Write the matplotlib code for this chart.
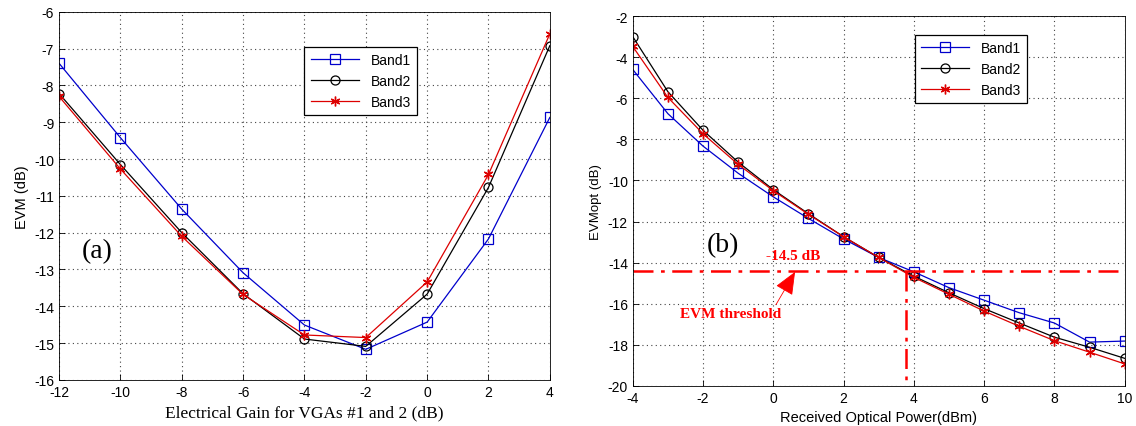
import matplotlib.pyplot as plt
import numpy as np

# panel (a)
gain = [-12, -10, -8, -6, -4, -2, 0, 2, 4]
a_band1 = [-7.4, -9.42, -11.36, -13.09, -14.51, -15.17, -14.43, -12.17, -8.87]
a_band2 = [-8.22, -10.15, -12.0, -13.66, -14.89, -15.09, -13.67, -10.77, -6.92]
a_band3 = [-8.3, -10.27, -12.1, -13.68, -14.78, -14.85, -13.34, -10.42, -6.6]

# panel (b)
power = [-4, -3, -2, -1, 0, 1, 2, 3, 4, 5, 6, 7, 8, 9, 10]
b_band1 = [-4.6, -6.75, -8.33, -9.65, -10.8, -11.85, -12.85, -13.75, -14.45,
           -15.22, -15.83, -16.44, -16.94, -17.87, -17.82]
b_band2 = [-3.0, -5.68, -7.56, -9.11, -10.45, -11.62, -12.74, -13.75, -14.66,
           -15.47, -16.24, -16.94, -17.63, -18.12, -18.66]
b_band3 = [-3.48, -5.96, -7.73, -9.22, -10.5, -11.65, -12.74, -13.75, -14.72,
           -15.54, -16.36, -17.1, -17.8, -18.36, -18.93]

labels = ['Band1', 'Band2', 'Band3']
threshold = -14.4
threshold_x = 3.77

plt.rcParams['font.family'] = 'Liberation Sans'
plt.rcParams['font.size'] = 8.5
plt.rcParams['axes.unicode_minus'] = False

fig = plt.figure(figsize=(11.36, 4.27), dpi=100)
ax1 = fig.add_axes([0.052, 0.108, 0.432, 0.862])
ax2 = fig.add_axes([0.557, 0.094, 0.433, 0.866])

asterisk = (6, 2, 0)
styles = [dict(color='#0000cc', marker='s', mfc='none', ms=7, mew=0.9),
          dict(color='black', marker='o', mfc='none', ms=6.5, mew=0.9),
          dict(color='#dd0000', marker=asterisk, ms=7, mew=1.0)]

for ys, st, lab in zip([a_band1, a_band2, a_band3], styles, labels):
    ax1.plot(gain, ys, lw=0.9, label=lab, **st)
for ys, st, lab in zip([b_band1, b_band2, b_band3], styles, labels):
    ax2.plot(power, ys, lw=0.9, label=lab, **st)

ax1.set_xlim(-12, 4)
ax1.set_ylim(-16, -6)
ax1.set_xticks(np.arange(-12, 5, 2))
ax1.set_yticks(np.arange(-16, -5, 1))
ax1.set_xlabel('Electrical Gain for VGAs #1 and 2 (dB)', family='Liberation Serif', fontsize=12.5)
ax1.set_ylabel('EVM (dB)', fontsize=10.5)
ax1.text(-11.25, -12.5, '(a)', family='Liberation Serif', fontsize=20, va='center')

ax2.set_xlim(-4, 10)
ax2.set_ylim(-20, -2)
ax2.set_xticks(np.arange(-4, 11, 2))
ax2.set_yticks(np.arange(-20, -1, 2))
ax2.set_xlabel('Received Optical Power(dBm)', fontsize=10.5)
ax2.set_ylabel('EVMopt (dB)', fontsize=9.5)
ax2.text(-1.9, -13.1, '(b)', family='Liberation Serif', fontsize=20, va='center')

# threshold lines
ax2.plot([-4, 10], [threshold, threshold], color='red', lw=1.8, ls=(0, (8, 3, 1.5, 3)))
ax2.plot([threshold_x, threshold_x], [threshold, -20], color='red', lw=1.8,
         ls=(0, (8, 3, 1.5, 3)))
ax2.text(-0.2, -13.65, '-14.5 dB', color='red', family='Liberation Serif',
         fontweight='bold', fontsize=11, va='center')
ax2.annotate('EVM threshold', xy=(0.62, -14.45), xytext=(-2.65, -16.5),
             color='red', family='Liberation Serif', fontweight='bold', fontsize=11,
             va='center',
             arrowprops=dict(arrowstyle='-|>,head_length=1.3,head_width=0.55',
                             color='red', lw=0.6, shrinkA=0, shrinkB=0,
                             relpos=(0.93, 1.0)))

for ax in (ax1, ax2):
    ax.grid(True, color='#444444', ls=(0, (1, 3)), lw=0.8)
    ax.tick_params(direction='in', length=4, width=0.6, labelsize=10)
    for sp in ax.spines.values():
        sp.set_linewidth(0.6)

leg1 = ax1.legend(loc='upper left', bbox_to_anchor=(0.5, 0.905), borderaxespad=0,
                  fancybox=False, edgecolor='black', fontsize=10, handlelength=3.5,
                  borderpad=0.45, labelspacing=0.5)
leg2 = ax2.legend(loc='upper left', bbox_to_anchor=(0.573, 0.95), borderaxespad=0,
                  fancybox=False, edgecolor='black', fontsize=10, handlelength=3.5,
                  borderpad=0.45, labelspacing=0.5)
for leg in (leg1, leg2):
    leg.get_frame().set_linewidth(0.9)
    leg.get_frame().set_alpha(1)

fig.savefig('out.png', dpi=100)
